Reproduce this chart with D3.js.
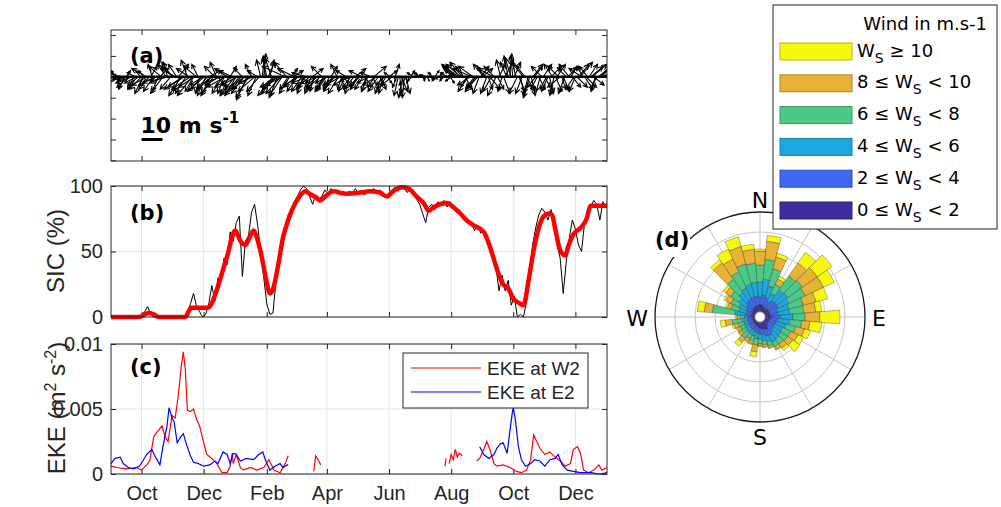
<!DOCTYPE html>
<html>
<head>
<meta charset="utf-8">
<script src="https://cdn.jsdelivr.net/npm/d3@7"></script>
<style>
  body { margin: 0; background: #fff; }
  svg { display: block; font-family: "Liberation Sans", Arial, sans-serif; }
  .tick text { font-size: 20px; fill: #262626; }
  .tick line { stroke: #262626; }
</style>
</head>
<body>
<div id="chart"></div>
<script>
// time axis: samples counted in days from 1 Sep 2017
var startDate = new Date(Date.UTC(2017, 8, 1)),
    endDate = new Date(Date.UTC(2019, 0, 1));
var tickDates = ["2017-10-01", "2017-12-01", "2018-02-01", "2018-04-01",
                 "2018-06-01", "2018-08-01", "2018-10-01", "2018-12-01"].map(function(s) { return new Date(s + "T00:00:00Z"); });
var monthLabels = ["Oct", "Dec", "Feb", "Apr", "Jun", "Aug", "Oct", "Dec"];
var windStep = 1.5; // days between wind vectors
var sicStep = 3;    // days between sicDaily samples

// (a) wind vectors, m/s (east, north)
var windU = [-4,-5,-6,-2,-3,-6,-7,-4,-5,-3,2,-5,-6,-7,-8,-3,-4,-6,-5,-2,
             -6,-4,-3,-7,-8,-5,3,-2,-5,-8,-7,-3,4,-6,-6,-7,-4,-2,-9,-5,
             -5,-6,-7,-4,5,-3,-6,-9,-8,-5,-3,-6,-9,-7,-4,-8,-6,-3,-2,-5,
             -6,-8,-4,-5,6,-4,-7,-6,-5,-3,4,-7,-8,-5,-3,-9,-6,-4,3,-6,
             -9,-7,-5,-8,-7,-4,-4,-6,-10,-5,-6,-9,-3,-7,-8,-4,-5,-6,-2,1,
             1,-1,-2,3,2,-3,-5,-8,-7,-4,-9,-7,-6,-9,-11,-6,-4,-5,3,5,
             -8,-6,-5,-7,4,-5,-3,-4,-7,-8,-6,-3,5,-2,-4,-6,-9,-7,-5,-4,
             -4,-5,-6,-3,3,-4,-5,-6,-3,-5,-7,-2,4,-3,-5,-7,-2,-4,-6,-5,
             5,-3,-4,-5,-6,-4,4,-2,-3,-6,-5,3,6,-4,-7,-5,3,-3,-2,-4,
             -3,2,4,-3,-5,1,2,-2,-2,1,3,-2,-1,2,-4,-1,2,-2,-3,1,
             2,-1,-3,2,1,-2,-2,1,3,-1,-1,2,2,-2,-3,1,1,-1,-2,3,
             -3,2,2,-3,-4,-5,-7,-6,-8,-7,-6,-4,3,-3,-5,-6,-9,-7,-4,-5,
             -6,-3,4,5,-5,-4,-3,2,5,-4,-7,-5,-4,3,3,-2,-2,3,4,-3,
             -2,1,-3,-1,3,-2,-4,3,2,-3,-5,-4,4,-2,-3,2,5,4,-4,-3,
             3,-2,-5,4,4,-3,-3,2,5,-4,-2,3,4,-5,-6,2,3,-3,-4,5,
             -5,3,4,-4,-3,5,5,6,-6,-3,4,5,-4,4,6,7,5,-2,-3,6,
             6,5,7,6,5];
var windV = [-3,-5,-2,3,2,-3,-4,1,-1,-6,3,-2,-5,-1,-3,-6,2,-3,-4,3,
             -6,-8,3,4,-4,-6,5,6,-7,-4,-3,-7,4,5,-8,-3,6,7,-2,-6,
             7,5,4,6,6,-7,-9,-6,-5,-8,8,4,-6,-9,-7,-5,5,6,-8,-6,
             -4,-7,-9,-6,3,-8,-6,-9,5,7,-5,-4,-3,-8,-8,-5,4,-9,5,3,
             -5,-9,-8,-4,-9,-6,4,-8,-6,-11,-10,-6,6,-3,-7,-9,3,-7,8,9,
             11,10,9,7,8,9,-6,-9,-8,-10,-5,-8,-9,-4,5,7,-6,-8,4,3,
             4,-5,-7,-4,-3,-7,-8,-6,2,-3,-5,-8,4,-7,-6,-5,-3,-6,5,-7,
             -6,-7,-3,-6,5,-5,-7,-4,6,-8,-4,-6,-5,-7,3,-4,-8,-5,-2,-6,
             4,-5,-6,-4,3,-6,-5,-7,-7,-3,2,-6,5,-5,-4,-7,-6,-8,-8,-4,
             -5,-3,3,2,-4,-2,6,-5,-9,-8,-7,-10,-10,-8,-4,-3,3,-2,2,1,
             1,2,2,-1,-2,1,1,-2,-1,2,2,-1,3,-2,-1,2,2,-1,-2,1,
             2,2,-3,-2,3,4,6,5,5,6,7,5,-6,-5,-7,-4,4,5,-5,-6,
             -7,-8,5,4,6,5,-8,-6,-6,-7,4,5,-9,-6,6,8,-7,-8,8,7,
             10,11,9,10,7,8,-8,-7,-9,-8,6,5,-7,-8,-10,-9,6,5,-5,-6,
             -6,-7,5,6,-8,-6,-7,-8,5,6,-9,-7,6,5,-5,-6,-7,-8,4,5,
             6,5,-5,-6,-7,-5,6,7,4,5,-6,-5,5,6,5,6,-4,-7,-6,5,
             6,5,4,4,3];

// (b) sea ice concentration, %
var sicDaily = [0,0,0,0,0,0,0,0,0,0,
                1,4,8,2,0,0,0,0,0,0,
                0,0,0,0,0,3,10,18,8,4,
                0,2,10,24,12,30,28,45,40,65,
                58,72,77,31,58,62,80,86,70,50,
                30,10,2,3,28,45,62,68,78,82,
                88,92,97,100,98,92,86,93,90,92,
                97,94,98,95,97,93,96,94,96,95,
                98,94,96,93,97,96,98,95,97,94,
                91,95,97,99,96,100,98,95,99,94,
                90,86,79,72,84,86,82,88,85,89,
                84,88,83,80,82,76,75,72,71,66,
                70,64,66,58,52,44,38,20,32,20,
                28,9,16,0,2,0,12,35,55,68,
                78,83,80,74,82,72,55,45,18,42,
                60,74,67,55,50,72,80,84,89,86,
                74,88,85];
// smoothed SIC: [day, %]
var sicSmooth = [[0,0],[28,0],[33,2],[37,3],[42,2],[47,0],[73,0],[76,4],[79,7],[94,7],[97,8],
  [104,21],[110,36],[115,49],[120,64],[122,66],[127,58],[132,55],[135,59],[140,66],[143,61],
  [148,46],[153,26],[156,18],[159,21],[164,39],[169,61],[174,74],[181,87],[186,93],[191,96],
  [195,94],[202,91],[205,89],[212,93],[218,96],[231,94],[245,95],[254,96],[264,95],[271,92],
  [277,96],[286,99],[294,97],[300,92],[307,87],[312,81],[317,84],[330,87],[336,84],[343,79],
  [349,74],[356,70],[366,65],[371,56],[376,44],[380,34],[385,25],[390,22],[395,14],[400,11],
  [405,9],[410,28],[415,51],[420,68],[425,77],[430,79],[433,78],[436,68],[441,51],[446,47],
  [449,54],[454,63],[461,68],[467,75],[471,85],[487,85]];

// (c) eddy kinetic energy, m2 s-2: [day, value], null = gap
var ekeW2 = [[0,.0006],[6,.0005],[15,.0004],[25,.0005],[30,.0003],[35,.0007],[38,.001],[42,.0029],
  [47,.0034],[50,.0037],[53,.0029],[56,.0025],[60,.0045],[63,.0043],[66,.006],[69,.0083],[71,.0094],
  [73,.008],[75,.0049],[78,.0048],[81,.005],[84,.0042],[87,.0037],[91,.0024],[94,.0015],[99,.0012],
  [104,.0008],[109,.0001],[114,.0001],[117,.0006],[119,.0016],[120,.0008],[123,.0015],[127,.0005],
  [130,.0003],[137,.0005],[143,.0003],[150,.0005],[155,.0011],[160,.0003],[166,.0001],[171,.0008],
  [174,.0014],[175,null],
  [199,.0002],[201,.0014],[204,.001],[206,.0007],[207,null],
  [328,.0006],[329,.0012],[330,null],
  [332,.0008],[334,.0015],[336,.0011],[338,.0019],[340,.0013],[342,.0016],[345,.0014],[346,null],
  [359,.001],[362,.0012],[366,.0019],[369,.0025],[372,.0019],[376,.0008],[379,.0006],[385,.0007],
  [392,.0005],[398,.0002],[403,.0001],[408,.0003],[412,.0011],[415,.003],[418,.0025],[421,.002],
  [426,.0015],[431,.0017],[436,.0013],[441,.001],[446,.0006],[451,.0008],[454,.0019],[458,.0021],
  [461,.0016],[464,.0003],[469,.0001],[474,.0003],[479,.0007],[482,.0003],[487,.0005]];
var ekeE2 = [[0,.0008],[4,.0012],[9,.0013],[12,.0008],[17,.0005],[22,.0004],[28,.0006],[35,.0015],
  [40,.0019],[43,.0014],[48,.0007],[51,.0021],[55,.0037],[57,.0051],[60,.0043],[62,.004],[65,.0024],
  [68,.0028],[71,.0031],[74,.0023],[78,.0014],[81,.0009],[86,.0008],[91,.0006],[97,.0007],[102,.001],
  [105,.0008],[110,.0017],[114,.0015],[117,.0008],[120,.0016],[123,.0015],[127,.001],[133,.0012],
  [140,.0011],[145,.0015],[149,.0017],[152,.001],[156,.0003],[161,.0006],[166,.0008],[169,.0005],
  [173,.0007],[174,.0007],[175,null],
  [362,.0021],[366,.0015],[371,.0012],[376,.0015],[379,.002],[382,.0023],[385,.0024],[389,.0016],
  [391,.0029],[394,.0047],[395,.0051],[397,.0042],[400,.0021],[403,.0011],[407,.0006],[412,.0008],
  [416,.0011],[421,.001],[426,.0006],[431,.0011],[436,.0012],[439,.0015],[443,.0007],[448,.0003],
  [454,.0002],[461,.0001],[471,.0001],[480,0],[487,.0001]];

// (d) wind rose: frequency (%) per 10 degree bin and speed class
var roseDirs = [0,10,20,30,40,50,60,70,80,90,100,110,120,130,140,150,160,170,
                180,190,200,210,220,230,240,250,260,270,280,290,300,310,320,330,340,350];
var freq0to2  = [.7,.7,.6,.5,.6,.6,.6,.5,.5,.6,.5,.5,.4,.5,.7,.9,.8,.7,.6,.5,.5,.4,.4,.3,.3,.3,.3,.3,.4,.4,.4,.5,.6,.6,.7,.7];
var freq2to4  = [.8,1,.9,.7,.9,1,.9,.8,.8,.9,.8,.7,.7,.7,.7,.7,.7,.6,.6,.6,.5,.5,.5,.5,.5,.4,.5,.4,.6,.5,.6,.7,.8,.9,.9,.9];
var freq4to6  = [1.5,1.6,1.2,.9,1.3,1.3,1.2,1.2,1.2,1.3,1.2,1,.9,.9,.8,.7,.6,.6,.5,.6,.5,.5,.5,.5,.4,.5,.5,.4,1,.8,.8,.9,1.1,1.2,1.3,1.4];
var freq6to8  = [1.7,2,1.8,1,1.7,1.8,1.8,1.5,1.4,1.2,1.2,1,.9,.8,.6,.5,.4,.4,.5,.6,.5,.5,.7,.5,.5,.6,1,.4,2.3,.8,.9,1,1.6,1.8,2.1,1.9];
var freq8to10 = [1.4,1.8,1.2,.6,1.6,1.8,2,1.3,1.2,1.5,.8,.9,.8,.6,.5,.3,.2,.2,.2,.7,.3,.3,.5,.3,.3,.4,.7,.3,.8,.4,.6,.6,2,1.4,1.8,1.4];
var freq10up  = [.2,.6,.4,.3,1.3,1.8,1.2,1.2,.6,2,1.2,.6,.6,.9,.3,.1,.1,.1,.1,.5,.1,.1,.5,.1,.1,.2,.5,.1,.7,.2,.2,.3,.4,1.1,1,.5];
var speedColors = ["#3b2ea3", "#3e68f2", "#1ca8de", "#4cc986", "#e8b236", "#f8f80f"];
var speedLow = ["0", "2", "4", "6", "8"],
    speedHigh = ["2", "4", "6", "8", "10"];

var svg = d3.select("#chart").append("svg")
    .attr("width", 1001)
    .attr("height", 507);

var x = d3.scaleUtc().domain([startDate, endDate]).range([111, 607]);
function dayDate(d) { return new Date(startDate.getTime() + d * 864e5); }

var yA = d3.scaleLinear().domain([-40.3, 22.4]).range([161, 30]);
var yB = d3.scaleLinear().domain([0, 100]).range([317, 186]);
var yC = d3.scaleLinear().domain([0, 0.01]).range([474, 344]);

function frame(y, yTicks, yFormat, grid, xLabels) {
    var top = y.range()[1], bottom = y.range()[0];
    var g = svg.append("g");
    if (grid) {
        g.append("g").selectAll("line").data(tickDates).enter().append("line")
            .attr("x1", function(d) { return x(d); }).attr("x2", function(d) { return x(d); })
            .attr("y1", top).attr("y2", bottom)
            .attr("stroke", "#e4e4e4");
        g.append("g").selectAll("line").data(yTicks).enter().append("line")
            .attr("x1", 111).attr("x2", 607)
            .attr("y1", function(d) { return y(d); }).attr("y2", function(d) { return y(d); })
            .attr("stroke", "#e4e4e4");
    }
    var ax = [
        [d3.axisBottom(x).tickValues(tickDates).tickSize(-5).tickPadding(12)
            .tickFormat(function(d, i) { return xLabels ? monthLabels[i] : ""; }), "translate(0," + bottom + ")"],
        [d3.axisTop(x).tickValues(tickDates).tickSize(-5).tickFormat(""), "translate(0," + top + ")"],
        [d3.axisLeft(y).tickValues(yTicks).tickSize(-5).tickPadding(8).tickFormat(yFormat), "translate(111,0)"],
        [d3.axisRight(y).tickValues(yTicks).tickSize(-5).tickFormat(""), "translate(607,0)"]
    ];
    ax.forEach(function(a) {
        var s = g.append("g").attr("transform", a[1]).call(a[0]);
        s.select(".domain").remove();
    });
    return g;
}

function box(y) {
    svg.append("rect")
        .attr("x", 111).attr("y", y.range()[1])
        .attr("width", 496).attr("height", y.range()[0] - y.range()[1])
        .attr("fill", "none").attr("stroke", "#262626");
}

function panelLabel(txt, px, py) {
    svg.append("text").attr("x", px).attr("y", py)
        .style("font-family", "'DejaVu Sans', sans-serif")
        .style("font-weight", "bold").style("font-size", "21px")
        .text(txt);
}

// ---------- (a) quiver
frame(yA, [-40, -30, -20, -10, 0, 10, 20], function() { return ""; }, false, false);

svg.append("clipPath").attr("id", "clipA").append("rect")
    .attr("x", 111).attr("y", 30).attr("width", 496).attr("height", 131);

var arrows = windU.map(function(u, i) {
    return {t: dayDate(i * windStep), u: u, v: windV[i]};
});
var k = yA(0) - yA(1);

var gA = svg.append("g").attr("clip-path", "url(#clipA)");
gA.append("line")
    .attr("x1", x(startDate)).attr("x2", x(endDate))
    .attr("y1", yA(0)).attr("y2", yA(0))
    .attr("stroke", "black").attr("stroke-width", 2.5);
gA.selectAll("path.arrow")
    .data(arrows)
    .enter()
    .append("path")
    .attr("class", "arrow")
    .attr("fill", "none")
    .attr("stroke", "black")
    .attr("stroke-width", 1.1)
    .attr("d", function(d) {
        var x0 = x(d.t), y0 = yA(0), x1 = x0 + d.u * k, y1 = y0 - d.v * k;
        var len = Math.hypot(x1 - x0, y1 - y0), ang = Math.atan2(y1 - y0, x1 - x0);
        var h = Math.min(6, 0.35 * len);
        var a1 = ang + Math.PI - 0.45, a2 = ang + Math.PI + 0.45;
        return "M" + x0 + "," + y0 + "L" + x1 + "," + y1 +
            "M" + (x1 + h * Math.cos(a1)) + "," + (y1 + h * Math.sin(a1)) +
            "L" + x1 + "," + y1 +
            "L" + (x1 + h * Math.cos(a2)) + "," + (y1 + h * Math.sin(a2));
    });
box(yA);
panelLabel("(a)", 130, 63);

// scale bar 10 m/s
svg.append("line")
    .attr("x1", x(tickDates[0])).attr("x2", x(tickDates[0]) + 10 * k)
    .attr("y1", yA(-30)).attr("y2", yA(-30))
    .attr("stroke", "black").attr("stroke-width", 3);
var sb = svg.append("text").attr("x", x(tickDates[0]) - 1).attr("y", yA(-30) - 6)
    .style("font-family", "'DejaVu Sans', sans-serif")
    .style("font-weight", "bold").style("font-size", "22px");
sb.append("tspan").text("10 m s");
sb.append("tspan").attr("dy", -10).style("font-size", "15px").text("-1");

// ---------- (b) SIC
frame(yB, [0, 50, 100], d3.format("d"), true, false);

var lineB = d3.line()
    .x(function(d, i) { return x(dayDate(i * sicStep)); })
    .y(function(d) { return yB(d); });
svg.append("path").datum(sicDaily)
    .attr("fill", "none").attr("stroke", "black").attr("stroke-width", 1)
    .attr("d", lineB);

var lineSmooth = d3.line()
    .curve(d3.curveMonotoneX)
    .x(function(d) { return x(dayDate(d[0])); })
    .y(function(d) { return yB(d[1]); });
svg.append("path").datum(sicSmooth)
    .attr("fill", "none").attr("stroke", "#ff0000").attr("stroke-width", 4.5)
    .attr("stroke-linejoin", "round")
    .attr("d", lineSmooth);
box(yB);
panelLabel("(b)", 130, 220);

svg.append("text")
    .attr("transform", "translate(64,251) rotate(-90)")
    .attr("text-anchor", "middle")
    .style("font-size", "24px").style("fill", "#262626")
    .text("SIC (%)");

// ---------- (c) EKE
frame(yC, [0, 0.005, 0.01], function(d) { return d === 0 ? "0" : String(d); }, true, true);

var lineC = d3.line()
    .defined(function(d) { return d[1] !== null; })
    .x(function(d) { return x(dayDate(d[0])); })
    .y(function(d) { return yC(d[1]); });
svg.append("path").datum(ekeW2)
    .attr("fill", "none").attr("stroke", "#ff0000").attr("stroke-width", 1.2)
    .attr("d", lineC);
svg.append("path").datum(ekeE2)
    .attr("fill", "none").attr("stroke", "#0000ff").attr("stroke-width", 1.2)
    .attr("d", lineC);
box(yC);
panelLabel("(c)", 130, 374);

var ekeLabel = svg.append("text")
    .attr("transform", "translate(65,408) rotate(-90)")
    .attr("text-anchor", "middle")
    .style("font-size", "24px").style("fill", "#262626");
ekeLabel.append("tspan").text("EKE (m");
ekeLabel.append("tspan").attr("dy", -9).style("font-size", "16px").text("2");
ekeLabel.append("tspan").attr("dy", 9).text(" s");
ekeLabel.append("tspan").attr("dy", -9).style("font-size", "16px").text("-2");
ekeLabel.append("tspan").attr("dy", 9).text(")");

// legend (c)
var legC = svg.append("g");
legC.append("rect").attr("x", 403).attr("y", 353).attr("width", 185).attr("height", 55)
    .attr("fill", "white").attr("stroke", "#262626");
[["EKE at W2", "#ff0000"], ["EKE at E2", "#0000ff"]].forEach(function(e, i) {
    var yy = 368 + i * 24;
    legC.append("line").attr("x1", 411).attr("x2", 481).attr("y1", yy).attr("y2", yy)
        .attr("stroke", e[1]).attr("stroke-width", 1.2);
    legC.append("text").attr("x", 487).attr("y", yy + 7)
        .style("font-size", "19px").style("fill", "#262626").text(e[0]);
});

// ---------- (d) wind rose
var rr = d3.scaleLinear().domain([0, 10]).range([5, 105]);
var rose = svg.append("g").attr("transform", "translate(760,317)");
rose.selectAll("circle.ring").data([2, 4, 6, 8]).enter().append("circle")
    .attr("r", function(d) { return rr(d); })
    .attr("fill", "none").attr("stroke", "#c4c4c4");
rose.selectAll("line.spoke").data([0, 30, 60, 90, 120, 150, 180, 210, 240, 270, 300, 330]).enter().append("line")
    .attr("x1", function(d) { return rr(0) * Math.sin(d * Math.PI / 180); })
    .attr("y1", function(d) { return -rr(0) * Math.cos(d * Math.PI / 180); })
    .attr("x2", function(d) { return rr(10) * Math.sin(d * Math.PI / 180); })
    .attr("y2", function(d) { return -rr(10) * Math.cos(d * Math.PI / 180); })
    .attr("stroke", "#c4c4c4");
rose.append("circle").attr("r", rr(10)).attr("fill", "none")
    .attr("stroke", "#1a1a1a").attr("stroke-width", 1.3);

var freqs = [freq0to2, freq2to4, freq4to6, freq6to8, freq8to10, freq10up];
var wedges = [];
roseDirs.forEach(function(dir, i) {
    var c = 0;
    freqs.forEach(function(f, j) {
        wedges.push({dir: dir, lo: c, hi: c + f[i], cls: j});
        c += f[i];
    });
});
var arc = d3.arc()
    .innerRadius(function(d) { return rr(d.lo); })
    .outerRadius(function(d) { return rr(d.hi); })
    .startAngle(function(d) { return (d.dir - 5) * Math.PI / 180; })
    .endAngle(function(d) { return (d.dir + 5) * Math.PI / 180; });
rose.selectAll("path.wedge").data(wedges).enter().append("path")
    .attr("d", arc)
    .attr("fill", function(d) { return speedColors[d.cls]; })
    .attr("stroke", "rgba(40,40,40,0.55)").attr("stroke-width", 0.6);
rose.append("circle").attr("r", rr(0)).attr("fill", "white").attr("stroke", "#aaa");

var compass = svg.append("g")
    .style("font-family", "'DejaVu Sans', sans-serif").style("font-size", "22px");
compass.append("text").attr("x", 760).attr("y", 208).attr("text-anchor", "middle").text("N");
compass.append("text").attr("x", 760).attr("y", 445).attr("text-anchor", "middle").text("S");
compass.append("text").attr("x", 872).attr("y", 326).attr("text-anchor", "start").text("E");
compass.append("text").attr("x", 648).attr("y", 326).attr("text-anchor", "end").text("W");

svg.append("rect").attr("x", 649).attr("y", 224).attr("width", 41).attr("height", 33).attr("fill", "white");
panelLabel("(d)", 655, 247);

// wind rose legend
var legD = svg.append("g")
    .style("font-family", "'DejaVu Sans', sans-serif").style("font-size", "18px");
legD.append("rect").attr("x", 773).attr("y", 5).attr("width", 224).attr("height", 224)
    .attr("fill", "white").attr("stroke", "#262626");
legD.append("text").attr("x", 987).attr("y", 30).attr("text-anchor", "end").text("Wind in m.s-1");
for (var j = 5; j >= 0; j--) {
    var row = 5 - j, cy = 51.5 + row * 31.8;
    legD.append("rect").attr("x", 780).attr("y", cy - 8.5).attr("width", 72).attr("height", 17)
        .attr("fill", speedColors[j]).attr("stroke", d3.color(speedColors[j]).darker(0.8));
    var t = legD.append("text").attr("x", 857).attr("y", cy + 5);
    if (j === 5) {
        t.append("tspan").text("W");
        t.append("tspan").attr("dy", 6).style("font-size", "14px").text("S");
        t.append("tspan").attr("dy", -6).text(" \u2265 10");
    } else {
        t.append("tspan").text(speedLow[j] + " \u2264 W");
        t.append("tspan").attr("dy", 6).style("font-size", "14px").text("S");
        t.append("tspan").attr("dy", -6).text(" < " + speedHigh[j]);
    }
}
</script>
</body>
</html>
